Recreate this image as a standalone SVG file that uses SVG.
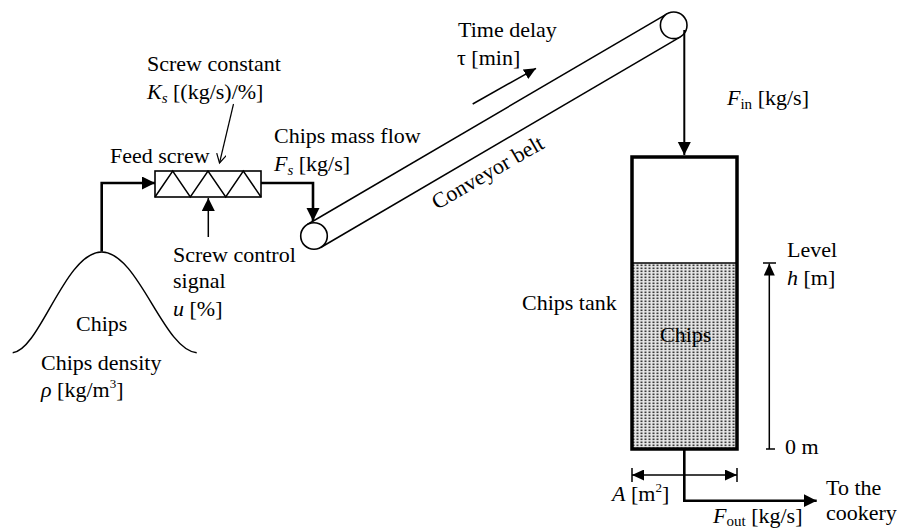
<svg xmlns="http://www.w3.org/2000/svg" width="897" height="530" viewBox="0 0 897 530" font-family="'Liberation Serif', 'Times New Roman', serif">
  <style>
    text { font-family: "Liberation Serif", "Times New Roman", serif; font-size: 22px; fill: #000; }
    .it { font-style: italic; }
    .sub { font-size: 15px; }
    .sup { font-size: 13px; }
    .thick { fill: none; stroke: #000; stroke-width: 2.6; }
    .thin { fill: none; stroke: #000; stroke-width: 1.5; }
    .hair { fill: none; stroke: #000; stroke-width: 1.2; }
  </style>
  <defs>
    <marker id="head" markerUnits="userSpaceOnUse" markerWidth="14" markerHeight="14" refX="13" refY="6.5" orient="auto">
      <path d="M0,0 L13,6.5 L0,13 z" fill="#000"/>
    </marker>
    <marker id="headSmall" markerUnits="userSpaceOnUse" markerWidth="13" markerHeight="12" refX="12" refY="5.5" orient="auto">
      <path d="M0,0 L12,5.5 L0,11 z" fill="#000"/>
    </marker>
    <marker id="headStart" markerUnits="userSpaceOnUse" markerWidth="13" markerHeight="12" refX="0" refY="5.5" orient="auto">
      <path d="M12,0 L0,5.5 L12,11 z" fill="#000"/>
    </marker>
    <marker id="openHead" markerUnits="userSpaceOnUse" markerWidth="12" markerHeight="12" refX="9" refY="5" orient="auto">
      <path d="M0,0 L9,5 L0,10" fill="none" stroke="#000" stroke-width="1.2"/>
    </marker>
    <pattern id="stipple" patternUnits="userSpaceOnUse" width="4" height="3">
      <rect width="4" height="3" fill="#e6e6e6"/>
      <rect x="0.5" y="0.5" width="2" height="1.6" fill="#3a3a3a"/>
    </pattern>
  </defs>

  <!-- chips pile -->
  <g id="pile">
    <path d="M12.7,352.7 C40,350 65,252 101.7,252 C138.4,252 163.4,350 196.7,352.7" class="thin"/>
    <text x="76" y="331">Chips</text>
    <text x="41" y="370">Chips density</text>
    <text x="41" y="397"><tspan class="it">ρ</tspan> [kg/m<tspan class="sup" dy="-9">3</tspan><tspan dy="9">]</tspan></text>
  </g>

  <!-- feed screw -->
  <g id="feed-screw">
    <rect x="155" y="171" width="106" height="26" fill="#fff" stroke="#000" stroke-width="1.6"/>
    <polyline points="155,197 172.7,171 190.3,197 208,171 225.7,197 243.3,171 261,197" class="thin"/>
    <text x="110" y="163">Feed screw</text>
    <text x="147" y="71">Screw constant</text>
    <text x="147" y="99"><tspan class="it">K</tspan><tspan class="it sub" dy="4">s</tspan><tspan dy="-4"> [(kg/s)/%]</tspan></text>
    <text x="173" y="262">Screw control</text>
    <text x="173" y="288">signal</text>
    <text x="173" y="316"><tspan class="it">u</tspan> [%]</text>
  </g>

  <!-- conveyor belt with rollers -->
  <g id="conveyor">
    <line x1="307.3" y1="224.5" x2="667" y2="13.8" class="thin"/>
    <line x1="320.7" y1="247.5" x2="680.4" y2="36.8" class="thin"/>
    <circle cx="314" cy="236" r="13.3" fill="#fff" stroke="#000" stroke-width="1.6"/>
    <circle cx="673.7" cy="25.3" r="13.3" fill="#fff" stroke="#000" stroke-width="1.6"/>
    <text transform="translate(437,210) rotate(-30)">Conveyor belt</text>
    <text x="458" y="37">Time delay</text>
    <text x="457" y="65">τ [min]</text>
    <text x="274" y="143">Chips mass flow</text>
    <text x="274" y="171"><tspan class="it">F</tspan><tspan class="it sub" dy="4">s</tspan><tspan dy="-4"> [kg/s]</tspan></text>
  </g>

  <!-- chips tank -->
  <g id="tank">
    <rect x="632" y="263" width="105" height="186" fill="url(#stipple)"/>
    <line x1="632" y1="263" x2="737" y2="263" stroke="#000" stroke-width="1.5"/>
    <rect x="632" y="157" width="105" height="292" fill="none" stroke="#000" stroke-width="3.5"/>
    <text x="660" y="342" fill="#222">Chips</text>
    <text x="522" y="310">Chips tank</text>
    <text x="727" y="105"><tspan class="it">F</tspan><tspan class="sub" dy="4">in</tspan><tspan dy="-4"> [kg/s]</tspan></text>
    <text x="787" y="257">Level</text>
    <text x="787" y="285"><tspan class="it">h</tspan> [m]</text>
    <text x="785" y="454">0 m</text>
    <text x="612" y="501"><tspan class="it">A</tspan> [m<tspan class="sup" dy="-9">2</tspan><tspan dy="9">]</tspan></text>
    <text x="826" y="495">To the</text>
    <text x="826" y="520">cookery</text>
    <text x="713" y="523"><tspan class="it">F</tspan><tspan class="sub" dy="3">out</tspan><tspan dy="-3"> [kg/s]</tspan></text>
  </g>

  <!-- connectors -->
  <g id="connectors">
    <path d="M101.7,251.5 V183 H155" class="thick" marker-end="url(#head)"/>
    <path d="M261,183 H313 V221" class="thick" marker-end="url(#head)"/>
    <line x1="233.5" y1="104" x2="219.5" y2="163" class="hair" marker-end="url(#openHead)"/>
    <line x1="208.3" y1="237" x2="208.3" y2="198" class="thin" marker-end="url(#head)"/>
    <line x1="472.7" y1="104" x2="536" y2="68.3" class="thin" marker-end="url(#headSmall)"/>
    <line x1="684.3" y1="30" x2="684.3" y2="155" stroke="#000" stroke-width="2" marker-end="url(#head)"/>
    <line x1="769.3" y1="449" x2="769.3" y2="263.5" class="thin" marker-end="url(#headSmall)"/>
    <line x1="763" y1="263" x2="776" y2="263" class="thin"/>
    <line x1="766" y1="449" x2="775" y2="449" class="thin"/>
    <line x1="632" y1="475" x2="737" y2="475" class="thin" marker-start="url(#headStart)" marker-end="url(#headSmall)"/>
    <line x1="632" y1="468" x2="632" y2="482" class="thin"/>
    <line x1="737" y1="468" x2="737" y2="482" class="thin"/>
    <path d="M684.3,450 V500.7 H816.7" class="thick" marker-end="url(#head)"/>
  </g>
</svg>
